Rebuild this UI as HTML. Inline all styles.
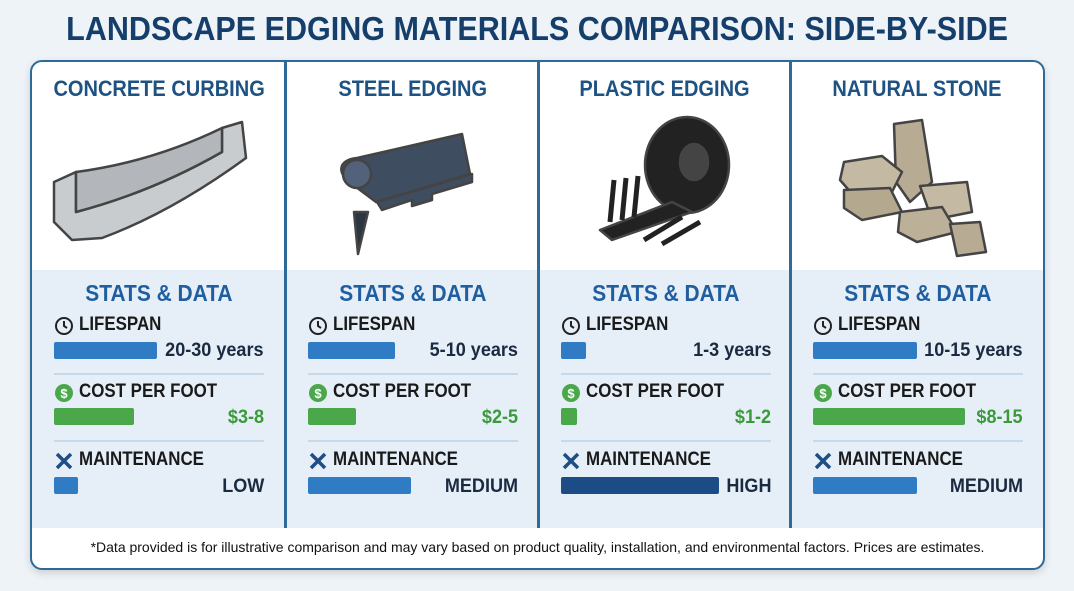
<!DOCTYPE html>
<html><head><meta charset="utf-8"><style>
body{margin:0;width:1074px;height:591px;background:#eef3f8;font-family:"Liberation Sans",sans-serif;font-weight:bold;position:relative;overflow:hidden}
.a{position:absolute;white-space:nowrap}
.s{display:inline-block}
.title{left:0;width:1074px;top:10px;text-align:center;font-size:33px;color:#153e6b}
.title .s{transform:scaleX(0.925);transform-origin:center}
.card{left:30px;top:60px;width:1011px;height:506px;border:2.5px solid #2d6a98;border-radius:12px;background:#fff;box-shadow:0 3px 8px rgba(0,0,0,.15);overflow:hidden}
.panel{left:0;top:208px;width:1011px;height:258px;background:#e6eff7}
.div{top:0;width:2.5px;height:466px;background:#2d6a98}
.hd{font-size:22px;color:#1d5283;text-align:center}
.hd .s,.st .s{transform:scaleX(0.91);transform-origin:center}
.st{font-size:23px;color:#1f5fa0;text-align:center}
.lb{font-size:19px;color:#1a1a1a;transform:scaleX(0.89);transform-origin:left}
.val{font-size:19px;color:#1a2a40;text-align:right}
.val .s{transform:scaleX(0.95);transform-origin:right}
.bar{height:17px;border-radius:2px;background:#2f7cc4}
.g{background:#4aa84a}
.sep{height:1.5px;background:#c7d8e8}
.foot{left:0;width:1011px;top:477px;text-align:center;font-size:14px;font-weight:normal;color:#111}
</style></head><body>
<div class="a title"><span class="s">LANDSCAPE EDGING MATERIALS COMPARISON: SIDE-BY-SIDE</span></div>
<div class="a card">
<div class="a panel"></div>
<div class="a div" style="left:252px"></div>
<div class="a div" style="left:505px"></div>
<div class="a div" style="left:757px"></div>
<svg class="a" style="left:0;top:0" width="1011" height="208">
 <g stroke="#444" stroke-width="2.5" stroke-linejoin="round">
  <path d="M22 120 L44 110 L44 150 Q120 130 190 90 L190 66 L210 60 L214 96 Q140 150 70 176 L40 178 L22 160 Z" fill="#c9cccf"/>
  <path d="M44 110 L44 150 Q120 130 190 90 L190 66 Q120 100 44 110 Z" fill="#b3b7bb"/>
  <path d="M320 122 C305 112 305 98 325 96 L430 72 L438 112 L344 140 Z" fill="#3e4d60"/>
  <circle cx="325" cy="112" r="14" fill="#52627a"/>
  <path d="M345 140 L440 112 L440 120 L400 132 L400 138 L380 144 L380 138 L350 148 Z" fill="#3e4d60"/>
  <path d="M322 150 L326 192 L336 150 Z" fill="#2c3640"/>
  <ellipse cx="655" cy="103" rx="42" ry="48" fill="#222"/>
  <ellipse cx="662" cy="100" rx="14" ry="18" fill="#444"/>
  <path d="M568 168 L640 140 L660 150 L580 178 Z" fill="#222"/>
  <path d="M582 118 L578 160 M594 116 L590 158 M606 114 L602 155" stroke="#222" stroke-width="5"/>
  <path d="M612 178 L650 155 M630 182 L668 160" stroke="#222" stroke-width="5"/>
  <path d="M862 62 L890 58 L900 120 L878 140 L864 120 Z" fill="#b7ab94"/>
  <path d="M812 100 L850 94 L870 110 L860 130 L822 134 L808 118 Z" fill="#c4b9a2"/>
  <path d="M812 128 L858 126 L870 150 L830 158 L812 146 Z" fill="#b4a98f"/>
  <path d="M888 124 L935 120 L940 150 L900 158 Z" fill="#c4b9a2"/>
  <path d="M868 150 L910 145 L925 170 L885 180 L866 170 Z" fill="#bcb098"/>
  <path d="M918 162 L948 160 L954 190 L925 194 Z" fill="#b7ab94"/>
 </g>
</svg>
<div class="a hd" style="left:0;width:254px;top:14px"><span class="s">CONCRETE CURBING</span></div>
<div class="a hd" style="left:254px;width:253px;top:14px"><span class="s">STEEL EDGING</span></div>
<div class="a hd" style="left:507px;width:252px;top:14px"><span class="s">PLASTIC EDGING</span></div>
<div class="a hd" style="left:759px;width:252px;top:14px"><span class="s">NATURAL STONE</span></div>
<div id="cols"></div>
<div class="a foot">*Data provided is for illustrative comparison and may vary based on product quality, installation, and environmental factors. Prices are estimates.</div>
</div>
<script>
var data=[
 [0,"20-30 years",103,"$3-8",80,"LOW",24,"#2f7cc4"],
 [254,"5-10 years",87,"$2-5",48,"MEDIUM",103,"#2f7cc4"],
 [507,"1-3 years",25,"$1-2",16,"HIGH",158,"#1b4c86"],
 [759,"10-15 years",104,"$8-15",152,"MEDIUM",104,"#2f7cc4"]];
var h="";
data.forEach(function(d){
 var L=d[0]+22,W=210;
 h+='<div class="a st" style="left:'+d[0]+'px;width:254px;top:218px"><span class="s">STATS &amp; DATA</span></div>';
 h+='<svg class="a" style="left:'+L+'px;top:254px" width="20" height="20"><circle cx="10" cy="10" r="8" fill="none" stroke="#222" stroke-width="2"/><path d="M10 5V10L13 12" stroke="#222" stroke-width="2" fill="none"/></svg>';
 h+='<div class="a lb" style="left:'+(L+25)+'px;top:252px">LIFESPAN</div>';
 h+='<div class="a bar" style="left:'+L+'px;top:280px;width:'+d[2]+'px"></div>';
 h+='<div class="a val" style="left:'+L+'px;width:'+W+'px;top:278px"><span class="s">'+d[1]+'</span></div>';
 h+='<div class="a sep" style="left:'+L+'px;width:'+W+'px;top:311px"></div>';
 h+='<svg class="a" style="left:'+L+'px;top:321px" width="20" height="20"><circle cx="10" cy="10" r="9" fill="#4aa84a"/><text x="10" y="15" font-size="13" text-anchor="middle" fill="#fff" font-family="Liberation Sans">$</text></svg>';
 h+='<div class="a lb" style="left:'+(L+25)+'px;top:319px">COST PER FOOT</div>';
 h+='<div class="a bar g" style="left:'+L+'px;top:346px;width:'+d[4]+'px"></div>';
 h+='<div class="a val" style="left:'+L+'px;width:'+W+'px;top:345px;color:#3a9a3a"><span class="s">'+d[3]+'</span></div>';
 h+='<div class="a sep" style="left:'+L+'px;width:'+W+'px;top:378px"></div>';
 h+='<svg class="a" style="left:'+L+'px;top:389px" width="20" height="20"><path d="M3 3L17 17M17 3L3 17" stroke="#1d4f86" stroke-width="3.5"/></svg>';
 h+='<div class="a lb" style="left:'+(L+25)+'px;top:387px">MAINTENANCE</div>';
 h+='<div class="a bar" style="left:'+L+'px;top:415px;width:'+d[6]+'px;background:'+d[7]+'"></div>';
 h+='<div class="a val" style="left:'+L+'px;width:'+W+'px;top:414px"><span class="s">'+d[5]+'</span></div>';
});
document.getElementById("cols").outerHTML=h;
</script>
</body></html>
